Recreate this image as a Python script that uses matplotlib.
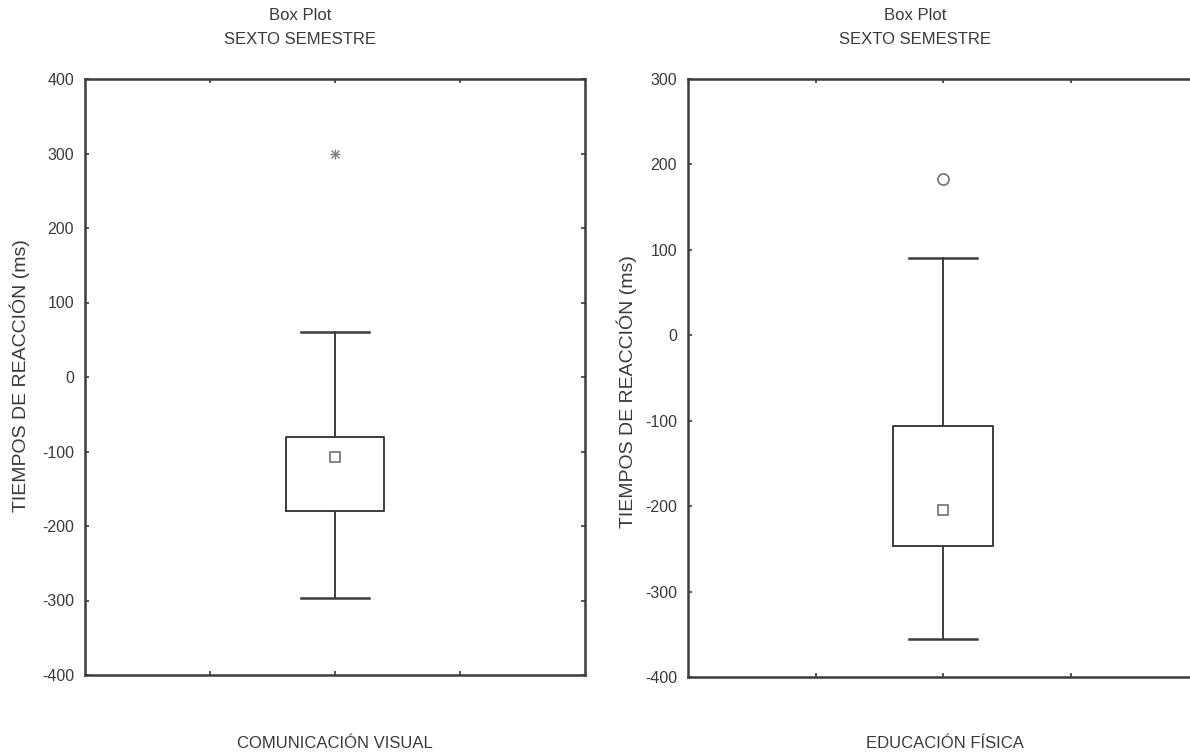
import matplotlib

matplotlib.use("Agg")

import matplotlib.pyplot as plt
from matplotlib.ticker import MultipleLocator

plt.rcParams["font.family"] = ["Liberation Sans Narrow", "Liberation Sans", "DejaVu Sans"]
plt.rcParams["axes.unicode_minus"] = False

# values (ms)
groups = ["COMUNICACIÓN VISUAL", "EDUCACIÓN FÍSICA"]
whisker_low = [-297, -355]
box_low = [-180, -247]
box_high = [-80, -106]
whisker_high = [60, 90]
centre_mark = [-107, -204]
outliers = [[300], [183]]
outlier_marker = ["x", "o"]
y_limits = [(-400, 400), (-400, 300)]

TITLE = "Box Plot\nSEXTO SEMESTRE"
YLABEL = "TIEMPOS DE REACCIÓN (ms)"
LINE = "#3c3c3c"
TEXT = "#3a3a3a"

W, H = 1190, 755
fig = plt.figure(figsize=(W / 100, H / 100), dpi=100)

panels = [
    dict(rect=[85 / W, (H - 675) / H, 500 / W, 596 / H], title_x=300 / W,
         ylabel_x=20 / W, ylabel_y=376 / H, group_x=335 / W),
    dict(rect=[688 / W, (H - 677) / H, 510 / W, 598 / H], title_x=915 / W,
         ylabel_x=627 / W, ylabel_y=392 / H, group_x=945 / W),
]

for i, panel in enumerate(panels):
    ax = fig.add_axes(panel["rect"])
    stats = [{
        "whislo": whisker_low[i],
        "q1": box_low[i],
        "med": centre_mark[i],
        "q3": box_high[i],
        "whishi": whisker_high[i],
        "mean": centre_mark[i],
        "fliers": [],
    }]
    ax.bxp(
        stats,
        positions=[2],
        widths=0.79,
        capwidths=0.54,
        showmeans=True,
        showfliers=False,
        boxprops=dict(color=LINE, linewidth=1.4),
        whiskerprops=dict(color=LINE, linewidth=1.4),
        capprops=dict(color=LINE, linewidth=1.8),
        medianprops=dict(linewidth=0),
        meanprops=dict(marker="s", markersize=7, markerfacecolor="white",
                       markeredgecolor="#666666", markeredgewidth=1.1),
    )
    if outlier_marker[i] == "x":
        ax.plot([2] * len(outliers[i]), outliers[i], linestyle="none", marker="+",
                markersize=7, color="#808080", markeredgewidth=1.0)
        ax.plot([2] * len(outliers[i]), outliers[i], linestyle="none", marker="x",
                markersize=5.5, color="#808080", markeredgewidth=1.0)
    else:
        ax.plot([2] * len(outliers[i]), outliers[i], linestyle="none", marker="o",
                markersize=8, markerfacecolor="white", markeredgecolor="#707070",
                markeredgewidth=1.2)

    ax.set_xlim(0, 4)
    ax.set_ylim(*y_limits[i])
    ax.yaxis.set_major_locator(MultipleLocator(100))
    ax.set_xticks([1, 2, 3])
    ax.set_xticklabels([])
    ax.tick_params(axis="both", direction="in", length=3, width=1.2, color=LINE,
                   top=True, right=True, labelsize=11.5, labelcolor=TEXT, pad=8)
    for spine in ax.spines.values():
        spine.set_color(LINE)
        spine.set_linewidth(1.8)

    fig.text(panel["title_x"], 1 - 27 / H, TITLE, ha="center", va="center",
             fontsize=12, color=TEXT, linespacing=1.75)
    fig.text(panel["ylabel_x"], 1 - panel["ylabel_y"], YLABEL, rotation=90, ha="center",
             va="center", fontsize=14, color=TEXT,
             family=["Liberation Sans", "DejaVu Sans"])
    fig.text(panel["group_x"], 1 - 743 / H, groups[i], ha="center", va="center",
             fontsize=12, color=TEXT)

fig.savefig("out.png", dpi=100, facecolor="white")
